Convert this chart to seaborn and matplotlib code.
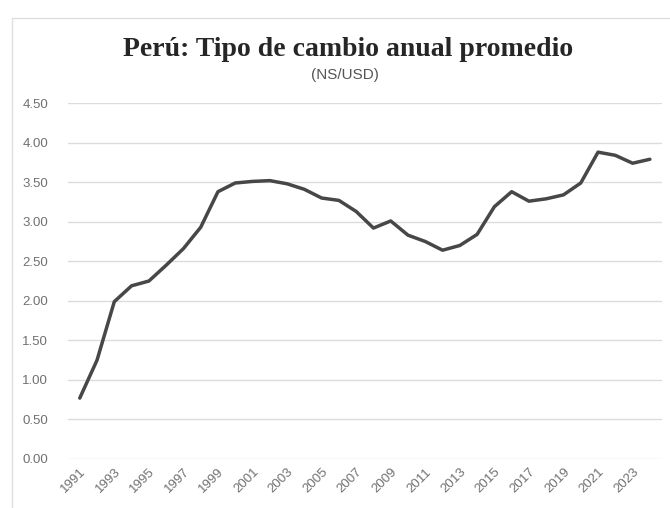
import matplotlib
matplotlib.use("Agg")
import matplotlib.pyplot as plt
import seaborn as sns
import pandas as pd
from matplotlib.patches import Rectangle

years = list(range(1991, 2025))
tipo_cambio = [0.77, 1.25, 1.99, 2.19, 2.25, 2.45, 2.66, 2.93, 3.38, 3.49,
               3.51, 3.52, 3.48, 3.41, 3.30, 3.27, 3.13, 2.92, 3.01, 2.83,
               2.75, 2.64, 2.70, 2.84, 3.19, 3.38, 3.26, 3.29, 3.34, 3.49,
               3.88, 3.84, 3.74, 3.79]
tick_years = list(range(1991, 2024, 2))
y_ticks = [0.0, 0.5, 1.0, 1.5, 2.0, 2.5, 3.0, 3.5, 4.0, 4.5]

df = pd.DataFrame({"Año": years, "Tipo de cambio": tipo_cambio})

sns.set_theme(style="white")
plt.rcParams["font.family"] = ["Liberation Sans", "DejaVu Sans"]

fig = plt.figure(figsize=(6.7, 5.08), dpi=100)
fig.patch.set_facecolor("white")

# outer frame of the chart area
fig.patches.append(Rectangle((12 / 670, -0.05), 1.0, 1 - 18 / 508 + 0.05,
                             transform=fig.transFigure, fill=False,
                             edgecolor="#dedede", linewidth=1.0))

ax = fig.add_axes([0.101, 0.0965, 0.887, 0.7005])
sns.lineplot(data=df, x="Año", y="Tipo de cambio", ax=ax,
             color="#474747", linewidth=2.5)

ax.set_ylim(0, 4.5)
ax.set_xlim(1990.3, 2024.7)
ax.set_yticks(y_ticks)
ax.set_yticklabels([f"{v:.2f}" for v in y_ticks], fontsize=9.5, color="#707070")
ax.set_xticks(tick_years)
ax.set_xticklabels([str(y) for y in tick_years], rotation=45, ha="right",
                   rotation_mode="anchor", fontsize=9.5, color="#707070")
ax.tick_params(axis="y", length=0, pad=14)
ax.tick_params(axis="x", length=0, pad=5)
ax.grid(axis="y", color="#dcdcdc", linewidth=1.0)
ax.set_axisbelow(True)
for s in ax.spines.values():
    s.set_visible(False)
ax.set_xlabel("")
ax.set_ylabel("")

fig.text(0.52, 0.903, "Perú: Tipo de cambio anual promedio",
         ha="center", va="center", fontsize=20, fontweight="bold",
         family=["Liberation Serif", "DejaVu Serif"], color="#262626")
fig.text(0.515, 0.853, "(NS/USD)", ha="center", va="center",
         fontsize=11, color="#555555")

fig.savefig("out.png", dpi=100)
